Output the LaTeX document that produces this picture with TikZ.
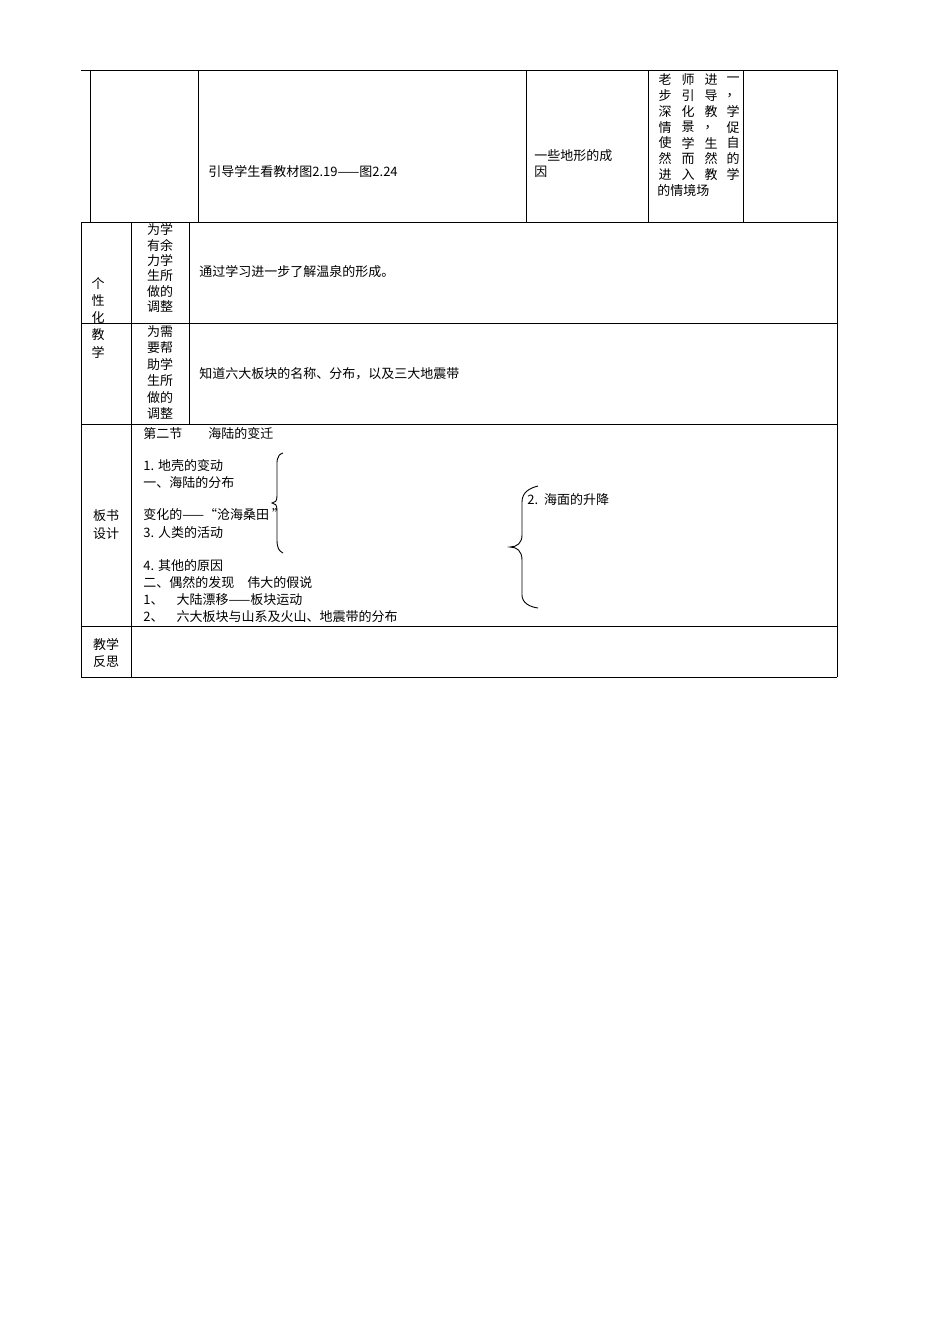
\documentclass[tikz,border=0pt]{standalone}
\usepackage{fontspec}
\setmainfont{Noto Sans CJK SC}
\begin{document}
\begin{tikzpicture}[x=1pt,y=-1pt,line width=0.8pt,
  t/.style={anchor=west,inner sep=0pt,font=\fontsize{13}{15}\selectfont},
  c/.style={inner sep=0pt,font=\fontsize{13}{15}\selectfont}]
\useasboundingbox (0,0) rectangle (950,1344);
\fill[white] (0,0) rectangle (950,1344);
% grid
\draw (81,70) -- (90,70);
\draw (90,70) -- (837,70);
\foreach \x in {90,198,526,648,743,837} \draw (\x,70) -- (\x,222);
\draw (81,222) -- (837,222);
\draw (81,323) -- (837,323) (81,424) -- (837,424) (81,626) -- (837,626) (81,677) -- (837,677);
\draw (81,222) -- (81,677) (837,222) -- (837,677) (131,222) -- (131,677) (189,222) -- (189,424);
% top row
\node[t] (a1) at (208,172) {引导学生看教材图2.19——图2.24};
\node[t] (a2) at (534,156) {一些地形的成};
\node[t] (a3) at (534,172) {因};
\foreach \l [count=\i] in {老师进一,步引导，,深化教学,情景，促,使学生自,然而然的,进入教学}{
  \foreach \ch [count=\j] in \l {}}
\def\rowA{{"老","师","进","一"},{"步","引","导","，"}}
\foreach \a/\b/\c/\d [count=\i] in {老/师/进/一,步/引/导/，,深/化/教/学,情/景/，/促,使/学/生/自,然/而/然/的,进/入/教/学}{
  \node[c] (p\i a) at (665,{64+15.8*\i}) {\a};
  \node[c] (p\i b) at (688,{64+15.8*\i}) {\b};
  \node[c] (p\i c) at (711,{64+15.8*\i}) {\c};
  \node[c] (p\i d) at (733,{64+15.8*\i}) {\d};}
\node[t] (p8) at (657,{64+15.8*8}) {的情境场};
% left labels
\foreach \s [count=\i] in {为学,有余,力学,生所,做的,调整}
  \node[c] (l\i) at (160,{214+15.5*\i}) {\s};
\foreach \s [count=\i] in {为需,要帮,助学,生所,做的,调整}
  \node[c] (m\i) at (160,{315+16.5*\i}) {\s};
\foreach \s [count=\i] in {个,性,化,教,学}
  \node[c] (g\i) at (98,{267+17*\i}) {\s};
\node[c] (b1) at (106,516) {板书};
\node[c] (b2) at (106,534) {设计};
\node[c] (r1) at (106,645) {教学};
\node[c] (r2) at (106,662) {反思};
\node[t] (q1) at (199,272) {通过学习进一步了解温泉的形成。};
\node[t] (q2) at (199,374) {知道六大板块的名称、分布，以及三大地震带};
% board
\node[t] (s0) at (143,434) {第二节\quad\quad 海陆的变迁};
\node[t] (s1) at (143,466) {1. 地壳的变动};
\node[t] (s2) at (143,483) {一、海陆的分布};
\node[t] (s3) at (143,515) {变化的——“沧海桑田 ”};
\node[t] (s4) at (143,533) {3. 人类的活动};
\node[t] (s5) at (143,566) {4. 其他的原因};
\node[t] (s6) at (143,583) {二、偶然的发现\quad 伟大的假说};
\node[t] (s7) at (143,600) {1、\quad 大陆漂移——板块运动};
\node[t] (s8) at (143,617) {2、\quad 六大板块与山系及火山、地震带的分布};
\node[t] (s9) at (527,500) {2.\ \ 海面的升降};
\draw[line width=0.9pt] (283,453) .. controls (276,455) and (277,462) .. (277,470) -- (277,496) .. controls (277,501) and (275,503) .. (272,503)
  .. controls (275,503) and (277,505) .. (277,510) -- (277,540) .. controls (277,548) and (279,551) .. (283,553);
\draw[line width=0.9pt] (538,486) .. controls (530,488) and (522,492) .. (522,502) -- (522,535) .. controls (522,543) and (517,547) .. (510,547)
  .. controls (517,547) and (522,551) .. (522,560) -- (522,595) .. controls (522,603) and (530,607) .. (538,608);
\end{tikzpicture}
\end{document}
